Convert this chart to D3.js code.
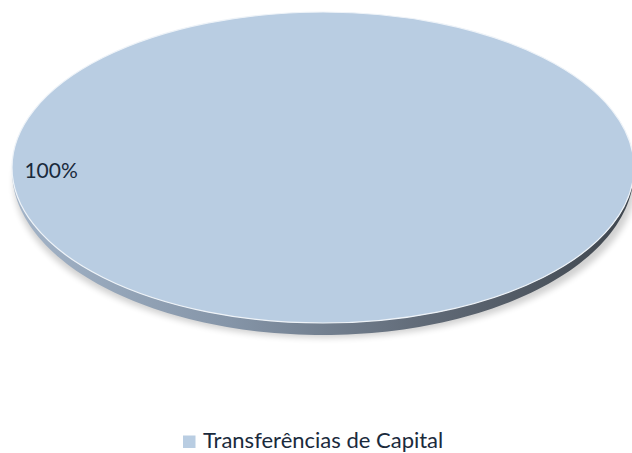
<!DOCTYPE html>
<html>
  <head>
    <title>Pie</title>
    <meta charset="utf-8" />
    <style>
      body { margin: 0; background: #fff; }
    </style>
  </head>
  <body>
    <div id="chart"></div>
    <script src="https://d3js.org/d3.v7.min.js"></script>
    <script type="text/javascript">
        const categories = ["Transferências de Capital"];
        const values = [100];
        const colors = ["#b9cde2"];

        const width = 632;
        const height = 453;
        const cx = 323, cy = 167.5;
        const rx = 311, ry = 155.5;
        const depth = 12;

        const svg = d3.select("#chart")
            .append("svg")
            .attr("width", width)
            .attr("height", height)
            .attr("font-family", "Lato, 'Open Sans', sans-serif");

        const defs = svg.append("defs");
        const grad = defs.append("linearGradient")
            .attr("id", "side")
            .attr("x1", 0).attr("x2", 1).attr("y1", 0).attr("y2", 0);
        grad.append("stop").attr("offset", 0).attr("stop-color", "#a3b4c8");
        grad.append("stop").attr("offset", 0.35).attr("stop-color", "#8595a8");
        grad.append("stop").attr("offset", 0.65).attr("stop-color", "#626c79");
        grad.append("stop").attr("offset", 1).attr("stop-color", "#3f464e");

        defs.append("filter").attr("id", "blur")
            .attr("x", "-10%").attr("y", "-10%").attr("width", "120%").attr("height", "130%")
            .append("feGaussianBlur").attr("stdDeviation", 3);

        const pie = d3.pie().sort(null).startAngle(0).endAngle(2 * Math.PI);
        const arcs = pie(values);
        const total = d3.sum(values);

        // unit arc, squashed into an ellipse by the transform
        const arc = d3.arc().innerRadius(0).outerRadius(1);

        const g = svg.append("g");

        // soft shadow
        g.append("ellipse")
            .attr("cx", cx + 2)
            .attr("cy", cy + depth + 3)
            .attr("rx", rx)
            .attr("ry", ry)
            .attr("fill", "#000")
            .attr("opacity", 0.18)
            .attr("filter", "url(#blur)");

        // side wall (lower half of the rim)
        const side = d3.path();
        side.moveTo(cx - rx, cy);
        side.lineTo(cx - rx, cy + depth * 0.25);
        const steps = 120;
        for (let i = 0; i <= steps; i++) {
            const t = Math.PI - Math.PI * i / steps;
            const d = depth * (0.25 + 0.75 * Math.sin(t));
            side.lineTo(cx + rx * Math.cos(t), cy + ry * Math.sin(t) + d);
        }
        side.lineTo(cx + rx, cy);
        for (let i = 0; i <= steps; i++) {
            const t = Math.PI * i / steps;
            side.lineTo(cx + rx * Math.cos(t), cy + ry * Math.sin(t));
        }
        side.closePath();
        g.append("path")
            .attr("d", side.toString())
            .attr("fill", "url(#side)");

        // top face
        g.append("g")
            .attr("transform", `translate(${cx},${cy}) scale(${rx},${ry})`)
            .selectAll("path")
            .data(arcs)
            .join("path")
            .attr("d", arc)
            .attr("fill", (d, i) => colors[i])
            .attr("stroke", "#eef3f8")
            .attr("stroke-width", 1.2)
            .attr("vector-effect", "non-scaling-stroke");

        // data label
        svg.append("g")
            .selectAll("text")
            .data(arcs)
            .join("text")
            .attr("x", cx - rx * 0.96)
            .attr("y", cy + 10)
            .attr("font-size", 21)
            .attr("fill", "#1a2a3c")
            .text(d => Math.round(d.data / total * 100) + "%");

        // legend
        const legend = svg.append("g")
            .attr("transform", "translate(183,434)");
        legend.selectAll("rect")
            .data(categories)
            .join("rect")
            .attr("x", 0).attr("y", 1.5)
            .attr("width", 12.5).attr("height", 12.5)
            .attr("fill", (d, i) => colors[i]);
        legend.selectAll("text")
            .data(categories)
            .join("text")
            .attr("x", 20)
            .attr("y", 14)
            .attr("font-size", 22)
            .attr("fill", "#1a2a3c")
            .text(d => d);
    </script>
  </body>
</html>
